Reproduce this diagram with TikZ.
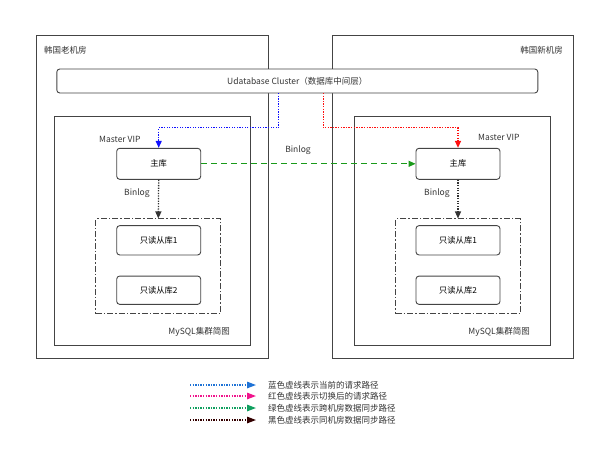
\documentclass[tikz,border=0pt]{standalone}
\usepackage{fontspec}
\setmainfont{Noto Sans CJK SC}
\usetikzlibrary{arrows.meta}
\definecolor{boxgray}{HTML}{444444}
\definecolor{lgblue}{HTML}{1F73D6}
\definecolor{lgpink}{HTML}{F0148C}
\definecolor{lggreen}{HTML}{10A060}
\definecolor{lgblack}{HTML}{330000}
\definecolor{pathblue}{HTML}{1010FF}
\definecolor{pathred}{HTML}{FF1010}
\definecolor{pathgreen}{HTML}{1A9A1A}
\tikzset{
  room/.style={draw=boxgray, line width=1pt, minimum width=#1},
  cbox/.style={draw=boxgray, line width=0.9pt, rounded corners=3pt, inner sep=0pt},
  dbbox/.style={draw=boxgray, line width=0.9pt, rounded corners=3pt, minimum width=84pt, inner sep=0pt, font=\fontsize{8.3}{10}\selectfont},
  ddbox/.style={draw=boxgray, line width=1pt, dash pattern=on 6pt off 2pt on 1.5pt off 2pt, inner sep=0pt},
  lbl/.style={font=\fontsize{8.5}{10}\selectfont, text=black!80, inner sep=0pt},
  dotline/.style={line width=1.3pt, dash pattern=on 1.3pt off 1.3pt},
  tip/.style={-{Triangle[length=7pt,width=6pt]}},
  ltip/.style={-{Triangle[length=9pt,width=6.5pt]}},
}
\begin{document}
\begin{tikzpicture}[x=1pt,y=-1pt]
\useasboundingbox (0,0) rectangle (600,456);
% rooms
\node[room, minimum width=232pt, minimum height=323pt] (oldroom) at (152.5,196.5) {};
\node[room, minimum width=241pt, minimum height=323pt] (newroom) at (452.5,196.5) {};
\node[lbl, anchor=west] (oldlbl) at (44,50) {韩国老机房};
\node[lbl, anchor=east] (newlbl) at (563,50) {韩国新机房};
% cluster
\node[cbox, minimum width=481pt, minimum height=24pt, fill=white] (cluster) at (297.3,81) {};
\node[lbl] (clusterlbl) at (297.3,81) {Udatabase Cluster（数据库中间层）};
% inner MySQL boxes
\node[room, minimum width=196.7pt, minimum height=228.3pt, line width=0.9pt] (innerL) at (152.3,231) {};
\node[room, minimum width=196.7pt, minimum height=228.3pt, line width=0.9pt] (innerR) at (452.3,231) {};
\node[lbl, anchor=east] (mysqlL) at (230,332) {MySQL集群简图};
\node[lbl, anchor=east] (mysqlR) at (530,332) {MySQL集群简图};
% masters
\node[dbbox, minimum height=31pt] (masterL) at (158.7,163.8) {主库};
\node[dbbox, minimum height=31pt] (masterR) at (458,163.8) {主库};
\node[lbl, anchor=west] (vipL) at (99,139) {Master VIP};
\node[lbl, anchor=west] (vipR) at (478,137) {Master VIP};
% slave groups
\node[ddbox, minimum width=124.7pt, minimum height=94.7pt] (groupL) at (158.3,266.3) {};
\node[ddbox, minimum width=124.7pt, minimum height=94.7pt] (groupR) at (458,266.3) {};
\node[dbbox, minimum height=29.3pt] (s1L) at (158.7,240.3) {只读从库1};
\node[dbbox, minimum height=28.3pt] (s2L) at (158.7,290.2) {只读从库2};
\node[dbbox, minimum height=29.3pt] (s1R) at (458,240.3) {只读从库1};
\node[dbbox, minimum height=28.3pt] (s2R) at (458,290.2) {只读从库2};
% binlog labels
\node[lbl, anchor=west] (binL) at (124,193) {Binlog};
\node[lbl, anchor=west] (binR) at (424,193) {Binlog};
\node[lbl] (binM) at (298,150) {Binlog};
% request paths
\coordinate (bstart) at (278.7,93);
\coordinate (rstart) at (323.3,93);
\draw[pathblue, dotline, tip] (bstart) -- ++(0,34.7) -| (masterL.north);
\draw[pathred, dotline, tip] (rstart) -- ++(0,34.7) -| (masterR.north);
% cross-room sync
\draw[pathgreen, line width=1.1pt, dash pattern=on 6pt off 4pt, tip] (masterL.east) -- (masterR.west);
% local sync
\draw[black!80, dotline, tip] (masterL.south) -- (groupL.north);
\draw[black!80, dotline, tip] (masterR.south) -- (groupR.north);
% legend
\foreach \n/\c/\y/\t in {a/lgblue/385/蓝色虚线表示当前的请求路径, b/lgpink/396/红色虚线表示切换后的请求路径, c/lggreen/408/绿色虚线表示跨机房数据同步路径, d/lgblack/420/黑色虚线表示同机房数据同步路径}{
  \coordinate (la\n) at (190,\y);
  \coordinate (lb\n) at (256,\y);
  \draw[\c, dotline, ltip] (la\n) -- (lb\n);
  \node[lbl, anchor=west] (lt\n) at (268,\y) {\t};
}
\end{tikzpicture}
\end{document}
